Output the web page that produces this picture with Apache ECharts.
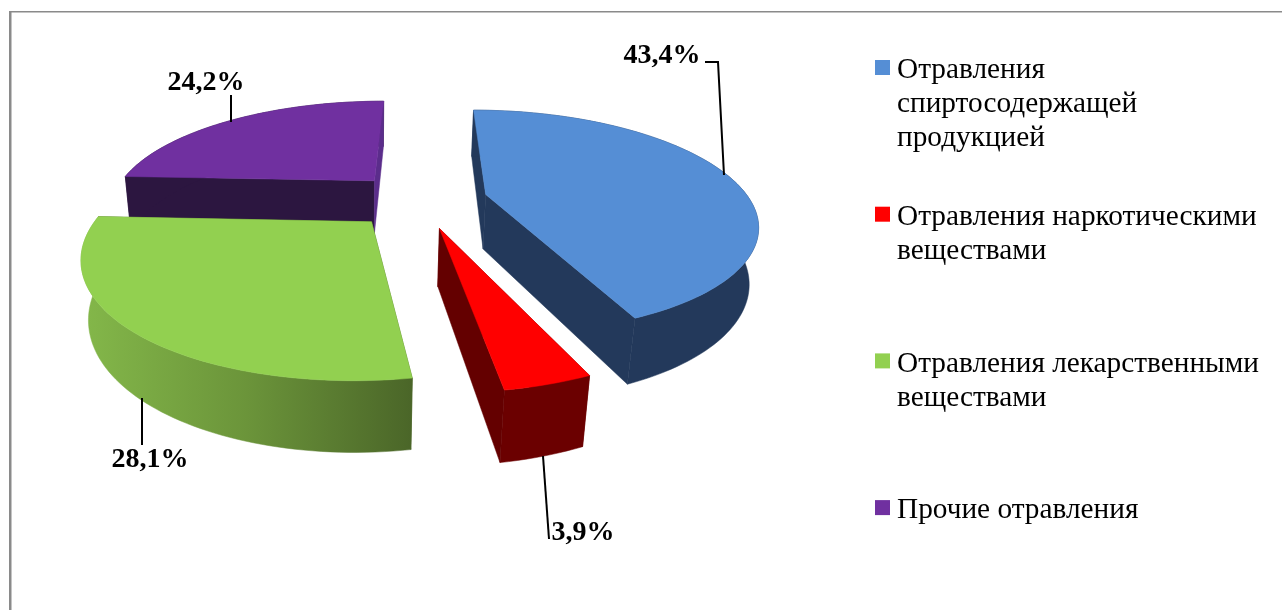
<!DOCTYPE html>
<html>
<head>
<meta charset="utf-8">
<style>
  html, body { margin: 0; padding: 0; background: #fff; }
  #chart { width: 1282px; height: 610px; }
</style>
<script src="https://cdn.jsdelivr.net/npm/echarts@6/dist/echarts.min.js"></script>
</head>
<body>
<div id="chart"></div>
<script>
// chart data
const categories = [
  'Отравления\nспиртосодержащей\nпродукцией',
  'Отравления наркотическими\nвеществами',
  'Отравления лекарственными\nвеществами',
  'Прочие отравления'
];
const values = [43.4, 3.9, 28.1, 24.2];
const topColors = ['#558ed5', '#ff0000', '#92d050', '#7030a0'];

// wall colours, rim / wall at the start angle / wall at the end angle
const rimColors = [
  '#23395b',
  '#6b0000',
  new echarts.graphic.LinearGradient(80, 0, 415, 0, [
    { offset: 0, color: '#84b84a' },
    { offset: 0.5, color: '#6b943a' },
    { offset: 1, color: '#4a6528' }
  ], true),
  '#2c1640'
];
const startWallColors = ['#23395b', '#6b0000', '#4a6528', '#2c1640'];
const endWallColors = ['#23395b', '#640000', '#4a6528', '#5b2d8b'];

// leader lines and label centres
const labelPos = [[662, 56], [583, 533], [150, 460], [206, 83]];
const leaders = [
  [[705, 62], [718, 62], [724, 175]],
  [[543, 456], [549, 539]],
  [[142, 398], [142, 445]],
  [[231, 95], [231, 122]]
];

// perspective of the disc plane (disc radius is 1)
const EXPLODE = 0.259;
const G = 0.244;
const A = 264;
const K = 2;
const C = 4.5;
const DEPTH = 55;
const total = values.reduce(function (a, b) { return a + b; }, 0);

function project(u, v) {
  const w = 1 + G * v;
  const x = 415 + (A * u + K * v + C) / w;
  const y = -240 + 440 / w;
  return { x: x, y: y, w: w };
}

// the same point on the bottom face of the slice
function drop(p) {
  const d = DEPTH / Math.pow(p.w, 0.77);
  return [p.x + (370 - p.x) * d / (2600 - p.y), p.y + d];
}

function renderSlice(index, params, api) {
  const value = api.value(0);
  let before = 0;
  for (let i = 0; i < index; i++) before += values[i];
  const a0 = before / total * Math.PI * 2;
  const a1 = (before + value) / total * Math.PI * 2;
  const mid = (a0 + a1) / 2;
  const ox = Math.sin(mid) * EXPLODE;
  const oy = Math.cos(mid) * EXPLODE;

  const apex = project(ox, oy);
  const arc = [];
  const steps = Math.max(6, Math.round((a1 - a0) * 40));
  for (let i = 0; i <= steps; i++) {
    const a = a0 + (a1 - a0) * i / steps;
    arc.push(project(ox + Math.sin(a), oy + Math.cos(a)));
  }
  const topArc = arc.map(function (p) { return [p.x, p.y]; });
  const bottomArc = arc.map(drop);
  const apexTop = [apex.x, apex.y];
  const apexBottom = drop(apex);

  function poly(points, fill) {
    return { type: 'polygon', shape: { points: points }, style: { fill: fill, stroke: fill, lineWidth: 0.5 } };
  }

  return {
    type: 'group',
    children: [
      poly([apexTop, topArc[0], bottomArc[0], apexBottom], startWallColors[index]),
      poly(topArc.concat(bottomArc.slice().reverse()), rimColors[index]),
      poly([apexTop, topArc[steps], bottomArc[steps], apexBottom], endWallColors[index]),
      poly([apexTop].concat(topArc), topColors[index]),
      {
        type: 'polyline',
        shape: { points: leaders[index] },
        style: { stroke: '#000', lineWidth: 2, fill: 'none' }
      },
      {
        type: 'text',
        style: {
          text: value.toFixed(1).replace('.', ',') + '%',
          x: labelPos[index][0],
          y: labelPos[index][1],
          fill: '#000',
          font: 'bold 28px "Liberation Serif"',
          align: 'center',
          verticalAlign: 'middle'
        }
      }
    ]
  };
}

// legend is drawn by hand, the marker sits on the first text line
const legendElements = [];
categories.forEach(function (name, i) {
  const y = 67.5 + 146.7 * i;
  legendElements.push({
    type: 'rect',
    shape: { x: 875, y: y - 7.5, width: 15, height: 15 },
    style: { fill: topColors[i] }
  });
  legendElements.push({
    type: 'text',
    style: {
      text: name,
      x: 897,
      y: y - 14,
      fill: '#000',
      font: '29.3px "Liberation Serif"',
      lineHeight: 34,
      align: 'left',
      verticalAlign: 'top'
    }
  });
});

const chart = echarts.init(document.getElementById('chart'));
const option = {
  animation: false,
  backgroundColor: '#fff',
  graphic: [
    { type: 'rect', shape: { x: 9, y: 11, width: 1273, height: 1.5 }, style: { fill: '#8a8a8a' } },
    { type: 'rect', shape: { x: 9, y: 11, width: 2.5, height: 599 }, style: { fill: '#8a8a8a' } }
  ].concat(legendElements),
  series: categories.map(function (name, i) {
    return {
      name: name,
      type: 'custom',
      coordinateSystem: 'none',
      z: i === 3 ? 1 : 2,
      silent: true,
      data: [[values[i]]],
      renderItem: function (params, api) {
        return renderSlice(i, params, api);
      }
    };
  })
};
chart.setOption(option);
</script>
</body>
</html>
